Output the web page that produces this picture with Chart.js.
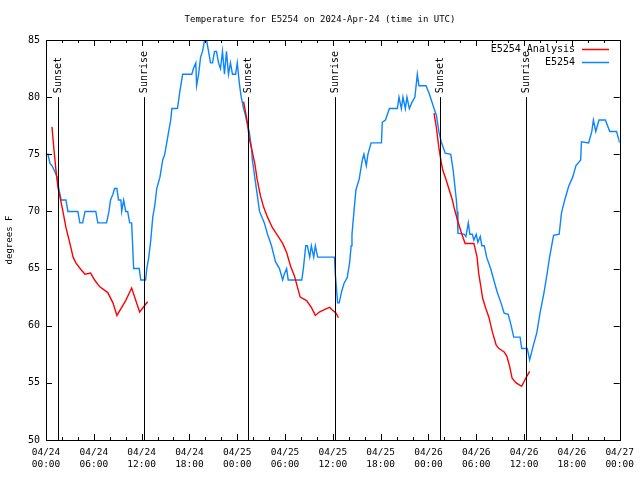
<!DOCTYPE html>
<html>
<head>
<meta charset="utf-8">
<script src="https://cdn.jsdelivr.net/npm/chart.js"></script>
<style>
  body { margin: 0; background: #fff; }
  canvas { display: block; }
</style>
</head>
<body>
<canvas id="chart" width="640" height="480"></canvas>
<script>
// hours since 2024-04-24 00:00 UTC
const obsHours = [0, 0.25, 0.5, 0.75, 1.1, 1.4, 1.6, 1.9, 2.5, 2.75, 4.0, 4.25, 4.6, 4.9, 6.25, 6.5, 7.6, 7.9, 8.1, 8.4, 8.6, 8.9, 9.1, 9.4, 9.5, 9.75, 10.0, 10.25, 10.5, 10.75, 11.0, 11.7, 11.9, 12.5, 12.65, 12.9, 13.15, 13.4, 13.65, 13.9, 14.3, 14.65, 14.9, 15.15, 15.4, 15.65, 15.8, 16.5, 16.8, 17.15, 18.3, 18.5, 18.8, 18.9, 19.15, 19.4, 19.65, 19.9, 20.15, 20.4, 20.65, 20.9, 21.15, 21.4, 21.65, 21.9, 22.15, 22.4, 22.65, 22.9, 23.15, 23.4, 23.8, 24.0, 24.3, 24.5, 24.8, 25.0, 25.3, 25.5, 25.8, 25.9, 26.2, 26.4, 26.8, 27.4, 27.8, 28.3, 28.8, 29.3, 29.7, 29.9, 30.2, 30.4, 32.1, 32.3, 32.6, 32.8, 33.1, 33.3, 33.6, 33.8, 34.1, 36.2, 36.3, 36.6, 36.8, 37.1, 37.4, 37.8, 38.1, 38.3, 38.4, 38.7, 38.9, 39.3, 39.7, 39.9, 40.2, 40.4, 40.8, 42.1, 42.2, 42.6, 43.1, 44.1, 44.3, 44.6, 44.8, 45.1, 45.3, 45.6, 45.9, 46.3, 46.6, 46.8, 47.7, 48.1, 48.7, 49.0, 49.3, 49.6, 50.1, 50.8, 51.1, 51.5, 51.6, 51.7, 52.5, 52.7, 53.0, 53.2, 53.5, 53.7, 54.0, 54.2, 54.5, 54.7, 55.0, 55.3, 55.8, 56.2, 56.6, 57.1, 57.5, 58.0, 58.35, 58.7, 59.5, 59.7, 60.4, 60.7, 61.1, 61.6, 62.0, 62.5, 62.9, 63.2, 63.7, 64.4, 64.7, 65.1, 65.6, 66.1, 66.5, 67.1, 67.2, 68.1, 68.5, 68.7, 69.0, 69.4, 70.2, 70.75, 71.6, 72.0];
const obsTemps = [75, 75, 74.2, 74, 73.5, 73, 72, 71, 71, 70, 70, 69, 69, 70, 70, 69, 69, 70, 71, 71.5, 72, 72, 71, 71, 70, 71, 70, 70, 69, 69, 65, 65, 64, 64, 65, 66, 67.5, 69.5, 70.5, 72, 73, 74.5, 75, 76, 77, 78, 79, 79, 80.5, 82, 82, 82.5, 83, 81, 82, 83.5, 84, 85, 85, 84, 83, 83, 84, 84, 83, 82.5, 84, 82, 84, 82, 83, 82, 82, 83, 81, 80, 79, 78.5, 77.5, 77, 75.5, 74.5, 73, 72, 70, 69, 68, 67, 65.6, 65, 64, 64.5, 65, 64, 64, 65, 67, 67, 66, 67, 66, 67, 66, 66, 64.6, 62, 62, 63, 63.7, 64.2, 65.5, 67, 68, 70.4, 71.9, 72.8, 74.5, 75, 74, 75, 76, 76, 77.8, 78, 79, 79, 80, 79, 80, 79, 80, 79, 79.5, 80, 82, 81, 81, 80.3, 79, 78.4, 77, 76.1, 75.1, 75, 73.6, 71, 70, 68.1, 68, 67.8, 69, 68, 68, 67.5, 68, 67.3, 67.8, 67, 67, 66, 65, 64, 63, 62, 61.1, 61, 60.1, 59, 59, 58, 58, 57, 58.1, 59.4, 61.1, 62.9, 64.6, 66, 67.9, 68, 69.9, 71, 72.2, 73, 74, 74.5, 76.1, 76, 77, 78, 77, 78, 78, 77, 77, 76];

// analysis series, null = gap between runs
const anaHours = [0.75, 1.0, 1.25, 1.5, 1.75, 2.1, 2.5, 3.0, 3.4, 3.75, 4.4, 4.9, 5.6, 6.1, 6.75, 7.75, 8.4, 8.9, 10.0, 10.75, 11.75, 12.75, 18.0,
  24.8, 25.3, 25.5, 25.8, 26.2, 26.5, 26.9, 27.3, 27.8, 28.4, 29.05, 29.7, 30.2, 30.7, 31.2, 31.55, 31.9, 32.7, 33.3, 33.8, 34.3, 35.2, 35.6, 35.9, 36.4, 36.7, 42.0,
  48.7, 49.0, 49.3, 49.6, 49.8, 50.2, 50.6, 51.0, 51.3, 51.7, 52.1, 52.6, 53.7, 54.1, 54.3, 54.6, 54.8, 55.2, 55.6, 56.0, 56.5, 56.85, 57.5, 57.85, 58.2, 58.5, 59.0, 59.7, 60.2, 60.7];
const anaTemps = [77.4, 75.4, 73.6, 72.1, 71.3, 70.1, 68.6, 67.2, 66, 65.5, 64.9, 64.5, 64.6, 64, 63.4, 62.9, 62, 60.9, 62.2, 63.3, 61.2, 62.1, null,
  79.6, 77.7, 76.4, 75.5, 74.2, 72.8, 71.4, 70.4, 69.5, 68.6, 67.9, 67.2, 66.4, 65.2, 64.3, 63.4, 62.5, 62.2, 61.6, 60.9, 61.2, 61.5, 61.6, 61.4, 61.1, 60.7, null,
  78.6, 77.3, 75.6, 74.3, 73.6, 72.8, 71.9, 71, 70.1, 69.1, 68.2, 67.2, 67.2, 66, 64.6, 63.3, 62.4, 61.5, 60.7, 59.5, 58.3, 58, 57.7, 57.3, 56.4, 55.4, 55, 54.7, 55.4, 56];

const sunHours = [1.5, 12.25, 25.4, 36.25, 49.4, 60.25];
const sunLabels = ["Sunset", "Sunrise", "Sunset", "Sunrise", "Sunset", "Sunrise"];
const dayLabels = ["04/24", "04/25", "04/26", "04/27"];

const FONT = "DejaVu Sans Mono";
const RED = "#ff0000";
const BLUE = "#0a84ff";

const gnuplotLook = {
  id: "gnuplotLook",
  afterDraw(chart) {
    const ctx = chart.ctx;
    const a = chart.chartArea;
    const xs = chart.scales.x, ys = chart.scales.y;
    ctx.save();
    ctx.strokeStyle = "#000";
    ctx.lineWidth = 1;
    // frame
    ctx.strokeRect(Math.round(a.left) + 0.5, Math.round(a.top) + 0.5,
      Math.round(a.right - a.left), Math.round(a.bottom - a.top));
    // inward ticks
    ctx.beginPath();
    for (let h = 2; h < 72; h += 2) {
      const px = Math.round(xs.getPixelForValue(h)) + 0.5;
      const len = h % 6 === 0 ? 6 : 3;
      ctx.moveTo(px, a.bottom); ctx.lineTo(px, a.bottom - len);
      ctx.moveTo(px, a.top); ctx.lineTo(px, a.top + len);
    }
    for (let v = 55; v < 85; v += 5) {
      const py = Math.round(ys.getPixelForValue(v)) + 0.5;
      ctx.moveTo(a.left, py); ctx.lineTo(a.left + 6, py);
      ctx.moveTo(a.right, py); ctx.lineTo(a.right - 6, py);
    }
    ctx.stroke();
    // sunrise / sunset markers
    ctx.fillStyle = "#000";
    sunHours.forEach((h, i) => {
      const px = Math.round(xs.getPixelForValue(h)) + 0.5;
      const top = ys.getPixelForValue(80);
      ctx.beginPath();
      ctx.moveTo(px, top); ctx.lineTo(px, a.bottom);
      ctx.stroke();
      ctx.save();
      ctx.translate(px, top - 4);
      ctx.rotate(-Math.PI / 2);
      ctx.font = "10px '" + FONT + "'";
      ctx.textAlign = "left";
      ctx.textBaseline = "middle";
      ctx.fillText(sunLabels[i], 0, 0);
      ctx.restore();
    });
    // title
    ctx.font = "9px '" + FONT + "'";
    ctx.textAlign = "center";
    ctx.textBaseline = "middle";
    ctx.fillText("Temperature for E5254 on 2024-Apr-24 (time in UTC)", 320, 20);
    // y axis title
    ctx.save();
    ctx.translate(10, 240);
    ctx.rotate(-Math.PI / 2);
    ctx.fillText("degrees F", 0, 0);
    ctx.restore();
    // legend
    const rows = [["E5254 Analysis", RED, 49], ["E5254", BLUE, 62]];
    ctx.textAlign = "right";
    ctx.font = "10px '" + FONT + "'";
    rows.forEach(([label, col, y]) => {
      ctx.fillStyle = "#000";
      ctx.fillText(label, 575, y);
      ctx.strokeStyle = col;
      ctx.lineWidth = 1.5;
      ctx.beginPath();
      ctx.moveTo(582, y + 0.5); ctx.lineTo(609, y + 0.5);
      ctx.stroke();
    });
    ctx.restore();
  }
};

new Chart(document.getElementById("chart"), {
  type: "line",
  data: {
    datasets: [
      {
        label: "E5254 Analysis",
        data: anaHours.map((h, i) => ({ x: h, y: anaTemps[i] })),
        borderColor: RED,
        borderWidth: 1.4,
        pointRadius: 0,
        spanGaps: false,
        tension: 0,
      },
      {
        label: "E5254",
        data: obsHours.map((h, i) => ({ x: h, y: obsTemps[i] })),
        borderColor: BLUE,
        borderWidth: 1.4,
        pointRadius: 0,
        tension: 0,
      },
    ],
  },
  options: {
    responsive: false,
    animation: false,
    layout: { padding: { top: 40, right: 19, left: 0, bottom: 0 } },
    plugins: { legend: { display: false }, title: { display: false }, tooltip: { enabled: false } },
    scales: {
      x: {
        type: "linear",
        min: 0,
        max: 72,
        afterFit: (s) => { s.height = 40; },
        grid: { display: false, drawTicks: false },
        border: { display: false },
        ticks: {
          stepSize: 6,
          padding: 6,
          maxRotation: 0,
          autoSkip: false,
          color: "#000",
          font: { family: FONT, size: 9.5, lineHeight: 1.3 },
          callback: (v) => {
            const day = dayLabels[Math.floor(v / 24)];
            const hr = String(v % 24).padStart(2, "0");
            return [day, hr + ":00"];
          },
        },
      },
      y: {
        min: 50,
        max: 85,
        afterFit: (s) => { s.width = 46; },
        grid: { display: false, drawTicks: false },
        border: { display: false },
        ticks: {
          stepSize: 5,
          padding: 6,
          color: "#000",
          font: { family: FONT, size: 10 },
        },
      },
    },
  },
  plugins: [gnuplotLook],
});
</script>
</body>
</html>
